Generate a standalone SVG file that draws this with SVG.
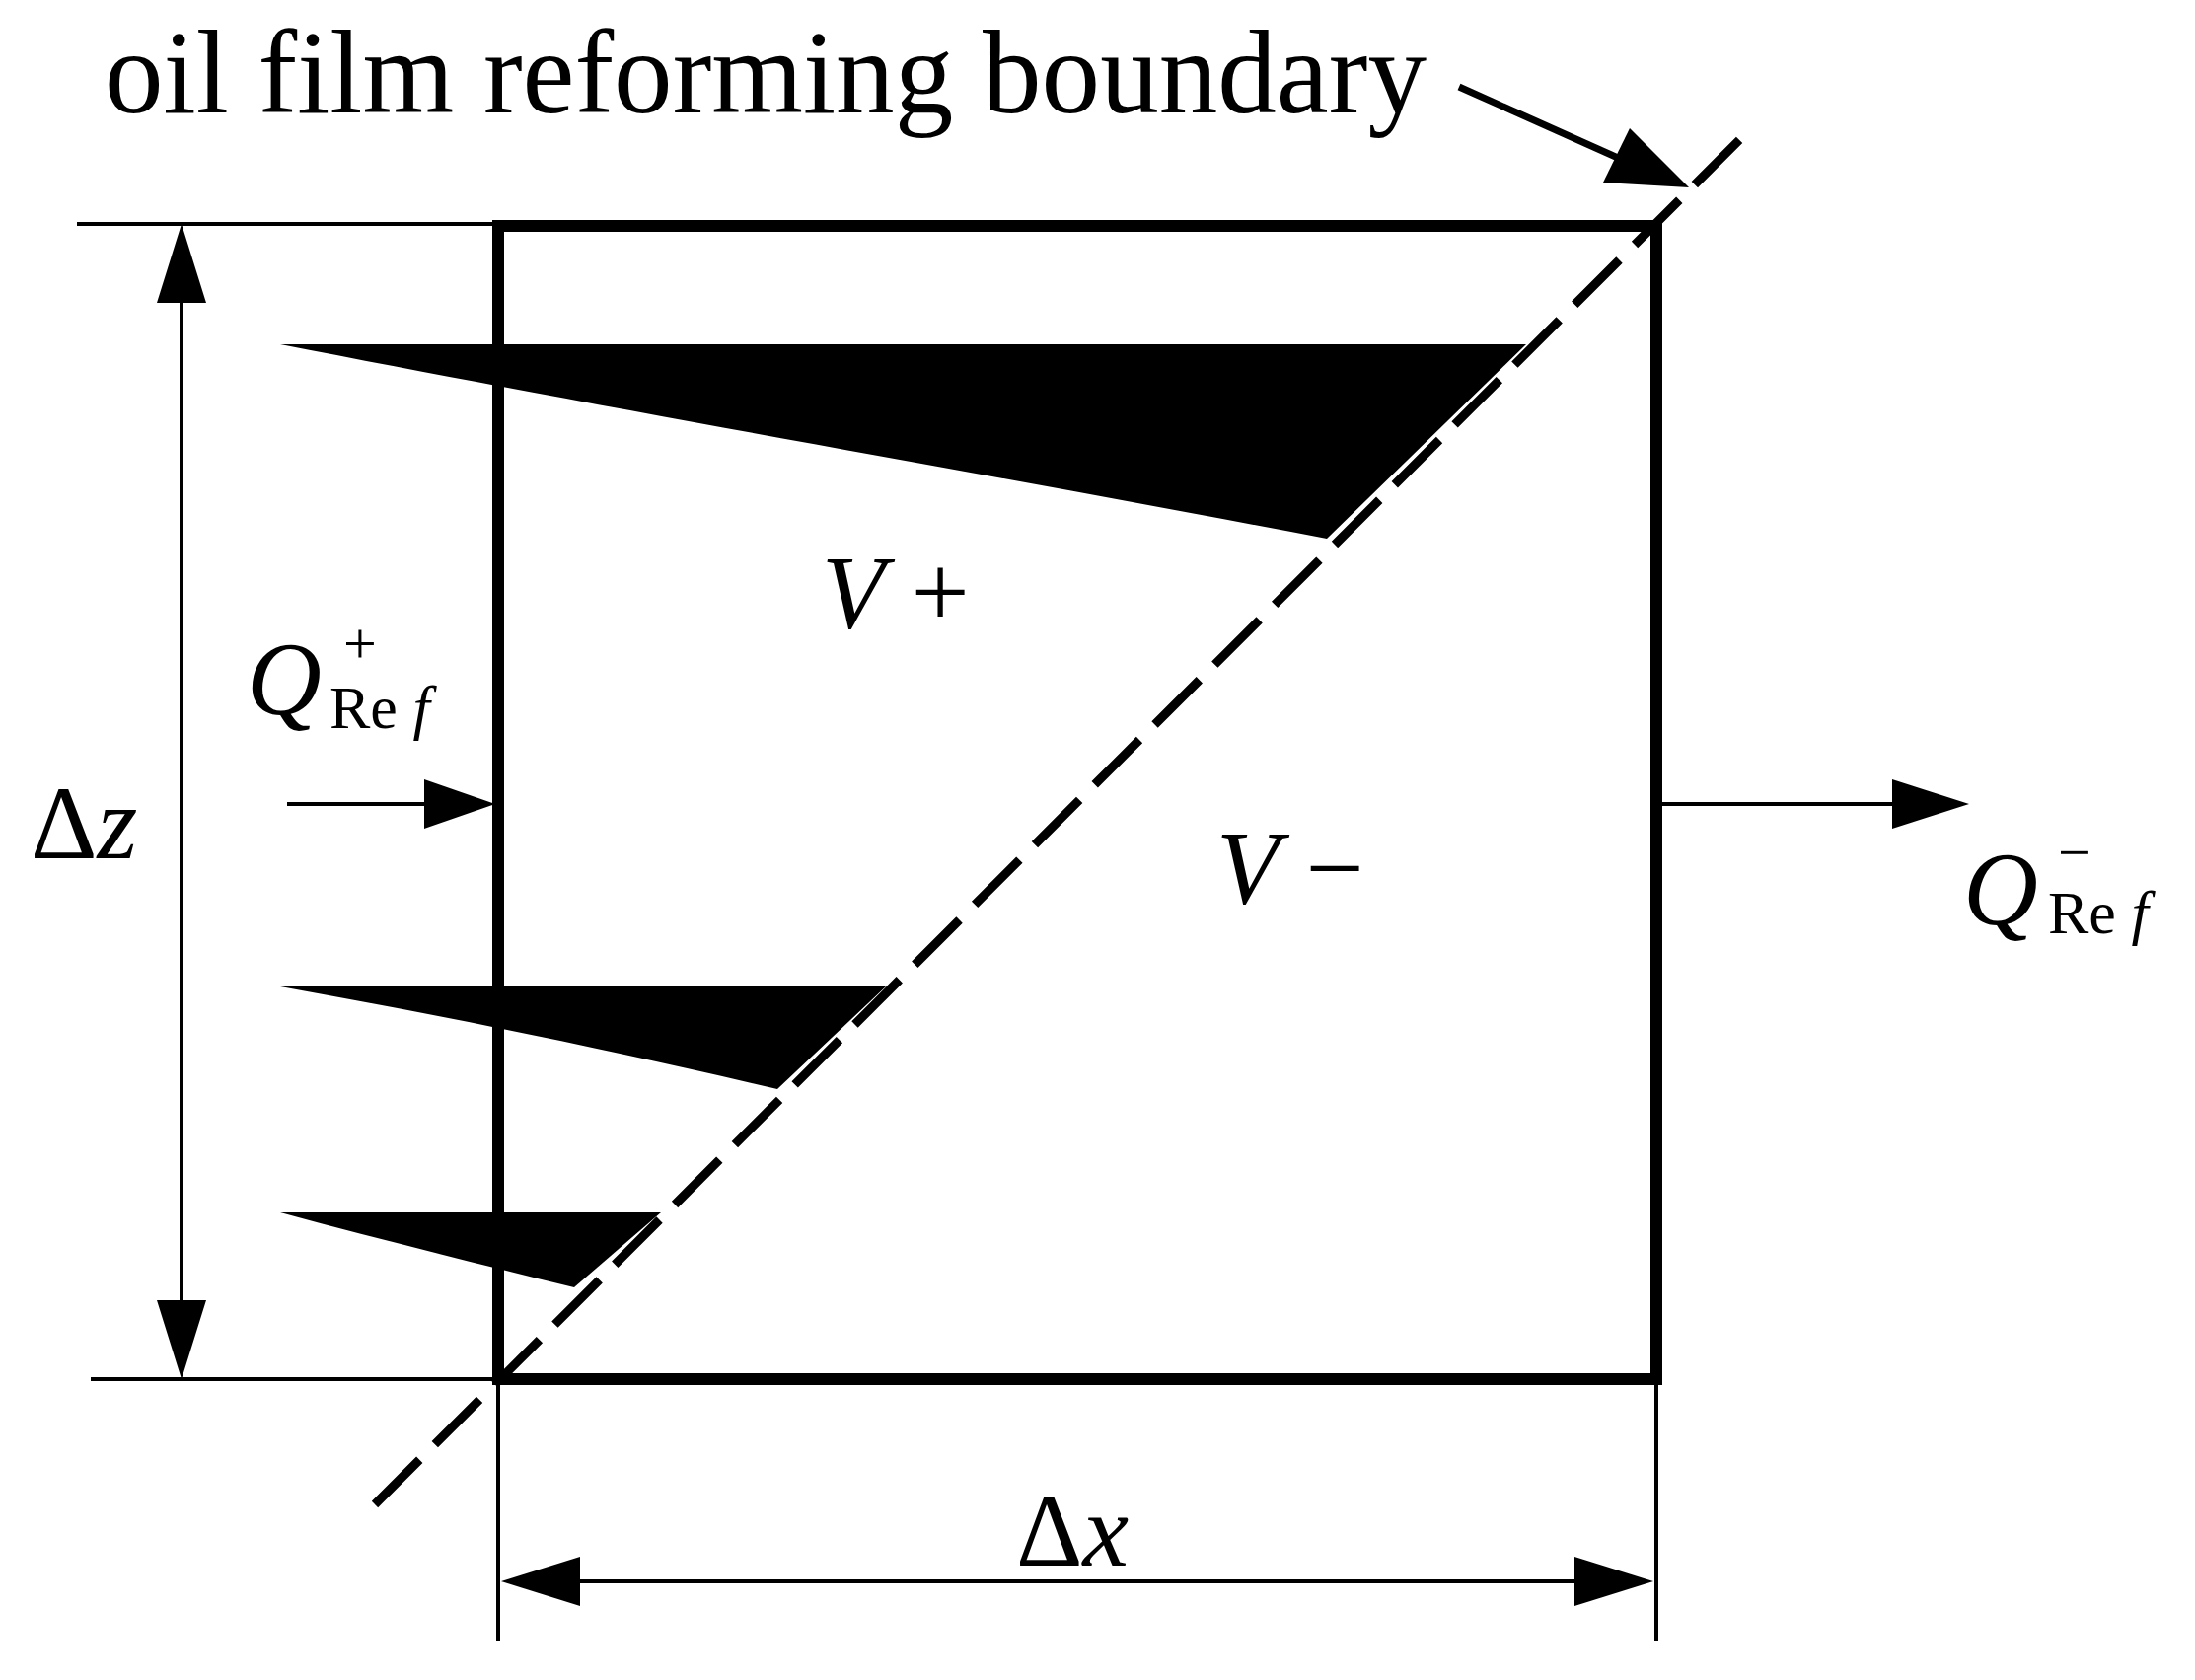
<svg xmlns="http://www.w3.org/2000/svg" width="2225" height="1703" viewBox="0 0 2225 1703">
<style>
.t{font-family:"Liberation Serif","Times New Roman",serif;fill:#000}
.i{font-style:italic}
.l{stroke:#000;stroke-width:4;fill:none}
</style>
<rect width="2225" height="1703" fill="#fff"/>
<g id="profiles" fill="#000">
<path d="M284,349 L1547,349 L1345,546 C1000,480 700,430 284,349 Z"/>
<path d="M284,1000 L898,1000 L788,1104 C600,1060 450,1030 284,1000 Z"/>
<path d="M284,1229 L670,1229 L582,1305 C480,1280 380,1255 284,1229 Z"/>
</g>
<g id="box"><rect x="505" y="229" width="1174" height="1169" fill="none" stroke="#000" stroke-width="12"/></g>
<g id="connectors">
<line x1="380" y1="1525" x2="1767" y2="138" stroke="#000" stroke-width="9" stroke-dasharray="64 22"/>
<line class="l" x1="78" y1="227" x2="505" y2="227"/>
<line class="l" x1="92" y1="1398" x2="505" y2="1398"/>
<line class="l" x1="184" y1="300" x2="184" y2="1325"/>
<polygon points="184,227 159,307 209,307"/>
<polygon points="184,1398 159,1318 209,1318"/>
<line class="l" x1="505" y1="1398" x2="505" y2="1663"/>
<line class="l" x1="1679" y1="1398" x2="1679" y2="1663"/>
<line class="l" x1="580" y1="1603" x2="1600" y2="1603"/>
<polygon points="508,1603 588,1578 588,1628"/>
<polygon points="1676,1603 1596,1578 1596,1628"/>
<line class="l" x1="291" y1="815" x2="440" y2="815"/>
<polygon points="502,815 430,790 430,840"/>
<line class="l" x1="1684" y1="815" x2="1930" y2="815"/>
<polygon points="1996,815 1918,790 1918,840"/>
<line x1="1479" y1="88" x2="1640" y2="160" stroke="#000" stroke-width="7"/>
<polygon points="1712,190 1625,185 1652,130"/>
</g>
<g id="labels">
<text class="t" x="106" y="114" font-size="120" textLength="1340" lengthAdjust="spacingAndGlyphs">oil film reforming boundary</text>
<text class="t" x="31" y="870" font-size="105">Δ<tspan class="i">z</tspan></text>
<text class="t" x="1030" y="1587" font-size="105">Δ<tspan class="i">x</tspan></text>
<text class="t" x="833" y="636" font-size="105"><tspan class="i">V</tspan> +</text>
<text class="t" x="1233" y="915" font-size="105"><tspan class="i">V</tspan> −</text>
<text class="t i" x="250" y="724" font-size="105">Q</text>
<text class="t" x="348" y="672" font-size="60">+</text>
<text class="t" x="334" y="738" font-size="62">Re <tspan class="i">f</tspan></text>
<text class="t i" x="1990" y="937" font-size="105">Q</text>
<text class="t" x="2086" y="884" font-size="60">−</text>
<text class="t" x="2076" y="946" font-size="62">Re <tspan class="i">f</tspan></text>
</g>
</svg>
